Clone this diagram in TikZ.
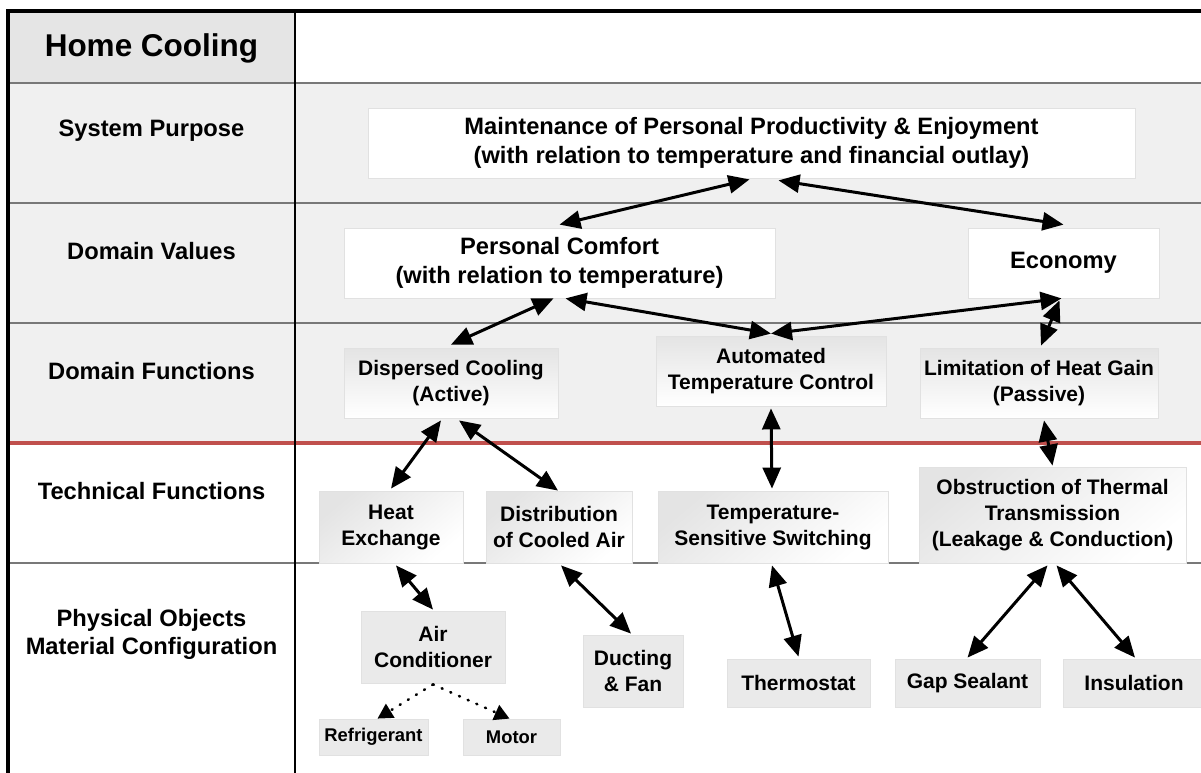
\documentclass[tikz,border=0pt]{standalone}
\usepackage{fontspec}
\setmainfont{Liberation Sans}
\usetikzlibrary{arrows.meta}
\definecolor{bgrow}{RGB}{240,240,240}
\definecolor{headcell}{RGB}{229,229,229}
\definecolor{physfill}{RGB}{234,234,234}
\definecolor{shadetop}{RGB}{228,228,228}
\definecolor{boxedge}{RGB}{225,225,225}
\definecolor{rowgray}{RGB}{120,120,120}
\definecolor{redline}{RGB}{192,80,77}
\begin{document}
\begin{tikzpicture}[x=1pt,y=-1pt,
  lbl/.style={align=center, inner sep=0pt, font=\bfseries\fontsize{23.7}{28}\selectfont},
  bigbox/.style={rectangle, inner sep=0pt, align=center, fill=white, draw=boxedge, line width=0.8pt,
     font=\bfseries\fontsize{23.7}{29}\selectfont},
  funbox/.style={rectangle, inner sep=0pt, align=center, draw=boxedge, line width=0.8pt,
     top color=shadetop, bottom color=white, font=\bfseries\fontsize{21}{25.5}\selectfont},
  techbox/.style={rectangle, inner sep=0pt, align=center, draw=boxedge, line width=0.8pt,
     top color=shadetop, bottom color=white, shading angle=40, font=\bfseries\fontsize{21}{26}\selectfont},
  physbox/.style={rectangle, inner sep=0pt, align=center, fill=physfill, draw=boxedge, line width=0.8pt,
     font=\bfseries\fontsize{21}{26}\selectfont},
  smallbox/.style={physbox, font=\bfseries\fontsize{18.4}{22}\selectfont},
  rowline/.style={draw=rowgray, line width=1.4pt},
  arr/.style={{Triangle[length=21pt,width=18pt]}-{Triangle[length=21pt,width=18pt]}, line width=3pt},
  dotarr/.style={-{Triangle[length=15pt,width=16pt]}, line width=2.6pt, dash pattern=on 1pt off 8.5pt, line cap=round}
]
\useasboundingbox (0,0) rectangle (1201,773);
% backgrounds
\fill[white] (0,0) rectangle (1201,773);
\fill[bgrow] (8,83) rectangle (1201,443);
\fill[headcell] (8,11) rectangle (295,83);
% grid lines
\draw[rowline] (8,83) -- (1201,83);
\draw[rowline] (8,203) -- (1201,203);
\draw[rowline] (8,323) -- (1201,323);
\draw[rowline] (8,563) -- (1201,563);
\draw[draw=redline, line width=3.5pt] (8,443) -- (1201,443);
\draw[line width=1.5pt] (295,11) -- (295,773);
\draw[line width=3.5pt] (8,773) -- (8,11) -- (1201,11);

% row labels
\node[lbl, font=\bfseries\fontsize{31.5}{36}\selectfont] (hc) at (151.5,48) {Home Cooling};
\node[lbl] (lsp) at (151.5,131) {System Purpose};
\node[lbl] (ldv) at (151.5,251) {Domain Values};
\node[lbl] (ldf) at (151.5,371) {Domain Functions};
\node[lbl] (ltf) at (151.5,491) {Technical Functions};
\node[lbl] (lpo) at (151.5,634) {Physical Objects\\Material Configuration};

% nodes
\node[bigbox, minimum width=767pt, minimum height=70pt] (purpose) at (751.5,143)
  {Maintenance of Personal Productivity \& Enjoyment\\(with relation to temperature and financial outlay)};
\node[bigbox, minimum width=431pt, minimum height=70pt] (comfort) at (559.5,263)
  {Personal Comfort\\(with relation to temperature)};
\node[bigbox, minimum width=191pt, minimum height=70pt] (economy) at (1063.5,263) {Economy};

\node[funbox, minimum width=214pt, minimum height=70pt] (dispersed) at (451,383) {Dispersed Cooling\\(Active)};
\node[funbox, minimum width=230pt, minimum height=70pt] (automated) at (771,371) {Automated\\Temperature Control};
\node[funbox, minimum width=238pt, minimum height=70pt] (limitation) at (1039,383) {Limitation of Heat Gain\\(Passive)};

\node[techbox, minimum width=144pt, minimum height=72pt] (heatex) at (391,527) {Heat\\Exchange};
\node[techbox, minimum width=146pt, minimum height=72pt] (distrib) at (559,527) {Distribution\\of Cooled Air};
\node[techbox, minimum width=230pt, minimum height=72pt] (tempsw) at (773,527) {Temperature-\\Sensitive Switching};
\node[techbox, minimum width=267pt, minimum height=96pt] (obstruct) at (1052.5,515)
  {Obstruction of Thermal\\Transmission\\(Leakage \& Conduction)};

\node[physbox, minimum width=144pt, minimum height=72pt] (aircon) at (433,647) {Air\\Conditioner};
\node[physbox, minimum width=100pt, minimum height=72pt] (ducting) at (633,671) {Ducting\\\& Fan};
\node[physbox, minimum width=143pt, minimum height=48pt] (thermostat) at (798.5,683) {Thermostat};
\node[physbox, minimum width=145pt, minimum height=48pt] (gap) at (967.5,683) {Gap Sealant};
\node[physbox, minimum width=142pt, minimum height=48pt] (insulation) at (1134,683) {Insulation};
\node[smallbox, minimum width=109pt, minimum height=36pt] (refrig) at (373.5,737) {Refrigerant};
\node[smallbox, minimum width=97pt, minimum height=36pt] (motor) at (511.5,737) {Motor};

% connectors
\draw[arr] ([xshift=-2pt,yshift=-1pt]purpose.south) -- ([yshift=3pt]comfort.north);
\draw[arr] ([xshift=27pt,yshift=-2pt]purpose.south) -- ([yshift=3pt]economy.north);
\draw[arr] ([xshift=-6pt]comfort.south) -- ([yshift=3pt]dispersed.north);
\draw[arr] ([xshift=6pt]comfort.south) -- ([yshift=2pt]automated.north);
\draw[arr] ([yshift=2pt]automated.north) -- ([xshift=-2pt]economy.south);
\draw[arr] ([xshift=-4pt,yshift=-2pt]economy.south) -- ([xshift=2pt,yshift=2pt]limitation.north);
\draw[arr] ([xshift=-10pt,yshift=-2pt]dispersed.south) -- ([yshift=2pt]heatex.north);
\draw[arr] ([xshift=8pt,yshift=-2pt]dispersed.south) -- ([xshift=-1pt]distrib.north);
\draw[arr] ([yshift=-2pt]automated.south) -- ([xshift=-1pt,yshift=2pt]tempsw.north);
\draw[arr] ([xshift=5pt,yshift=-2pt]limitation.south) -- ([yshift=1pt]obstruct.north);
\draw[arr] ([xshift=5pt,yshift=-2pt]heatex.south) -- ([yshift=1pt]aircon.north);
\draw[arr] ([xshift=2pt,yshift=-2pt]distrib.south) -- ([xshift=-2pt,yshift=1pt]ducting.north);
\draw[arr] ([xshift=-1pt,yshift=-2pt]tempsw.south) -- ([yshift=2pt]thermostat.north);
\draw[arr] ([xshift=-5pt,yshift=-2pt]obstruct.south) -- ([yshift=1pt]gap.north);
\draw[arr] ([xshift=4pt,yshift=-2pt]obstruct.south) -- ([xshift=1pt,yshift=1pt]insulation.north);
\draw[dotarr] ([yshift=-1pt]aircon.south) -- ([xshift=4pt]refrig.north);
\draw[dotarr] ([yshift=-1pt]aircon.south) -- ([xshift=-2pt]motor.north);
\end{tikzpicture}
\end{document}
